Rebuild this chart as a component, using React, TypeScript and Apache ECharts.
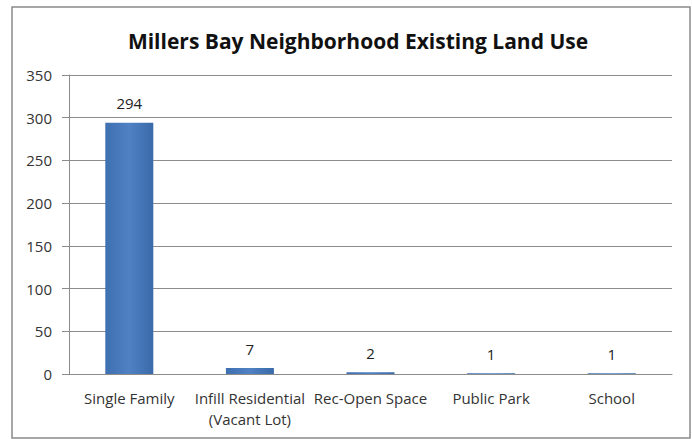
import React, { useEffect, useRef } from "react";
import * as echarts from "echarts";

const categories = [
  "Single Family",
  "Infill Residential\n(Vacant Lot)",
  "Rec-Open Space",
  "Public Park",
  "School",
];
const values = [294, 7, 2, 1, 1];
const yTicks = { min: 0, max: 350, interval: 50 };
const title = "Millers Bay Neighborhood Existing Land Use";

const FONT = "'Open Sans', 'Liberation Sans', sans-serif";

export default function App() {
  const ref = useRef<HTMLDivElement>(null);
  useEffect(() => {
    if (!ref.current) return;
    const chart = echarts.init(ref.current, undefined, { renderer: "svg" });
    chart.setOption({
      animation: false,
      backgroundColor: "#ffffff",
      title: {
        text: title,
        left: 353,
        textAlign: "center",
        top: 25,
        textStyle: {
          fontFamily: FONT,
          fontSize: 21,
          fontWeight: "bold",
          color: "#111",
        },
      },
      graphic: [
        {
          type: "rect",
          shape: { x: 12, y: 7, width: 678, height: 431 },
          style: { fill: "none", stroke: "#8a8a8a", lineWidth: 1.5 },
          silent: true,
        },
      ],
      grid: { left: 69, right: 20, top: 75, bottom: 65, containLabel: false },
      xAxis: {
        type: "category",
        data: categories,
        axisLine: { lineStyle: { color: "#8c8c8c" } },
        axisTick: { alignWithLabel: true, length: 5, lineStyle: { color: "#8c8c8c" } },
        axisLabel: {
          interval: 0,
          margin: 13,
          fontFamily: FONT,
          fontSize: 15,
          color: "#333",
          lineHeight: 21,
        },
      },
      yAxis: {
        type: "value",
        min: yTicks.min,
        max: yTicks.max,
        interval: yTicks.interval,
        axisLine: { show: true, lineStyle: { color: "#8c8c8c" } },
        axisTick: { show: true, length: 7, lineStyle: { color: "#8c8c8c" } },
        splitLine: { lineStyle: { color: "#8c8c8c" } },
        axisLabel: {
          margin: 17,
          fontFamily: FONT,
          fontSize: 15,
          color: "#333",
        },
      },
      series: [
        {
          type: "bar",
          data: values,
          barWidth: 48,
          itemStyle: {
            color: new echarts.graphic.LinearGradient(0, 0, 1, 0, [
              { offset: 0, color: "#3f70b0" },
              { offset: 0.5, color: "#4f81c4" },
              { offset: 1, color: "#3a6aa8" },
            ]),
          },
          label: {
            show: true,
            position: "top",
            distance: 12,
            fontFamily: FONT,
            fontSize: 15,
            color: "#222",
          },
        },
      ],
    });
    return () => chart.dispose();
  }, []);
  return (
    <div
      ref={ref}
      style={{ position: "fixed", left: 0, top: 0, width: 692, height: 439 }}
    />
  );
}
